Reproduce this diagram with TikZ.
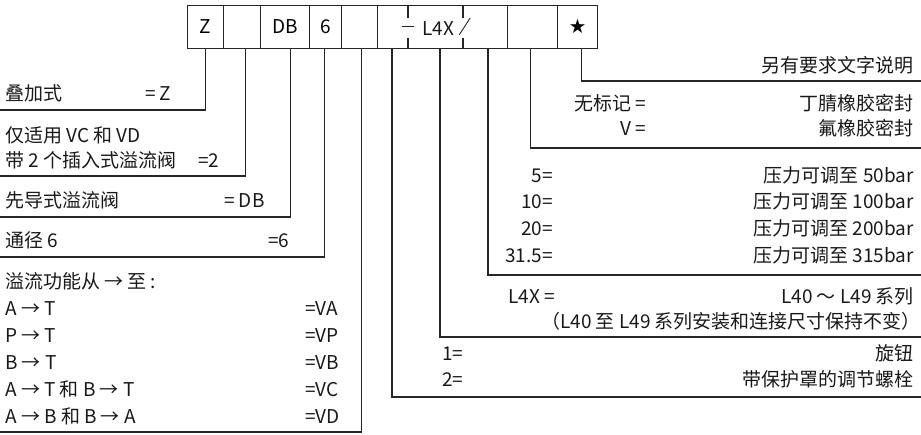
\documentclass[tikz,border=0pt]{standalone}
\usepackage{fontspec}
\setmainfont{Noto Sans CJK SC}
\newcommand{\fs}{\fontsize{19pt}{22pt}\selectfont}
\begin{document}
\begin{tikzpicture}[x=1pt,y=-1pt,
  ln/.style={line width=1.1pt, draw=black!85},
  cell/.style={draw=black!85, line width=1.1pt, minimum height=43pt, inner sep=0pt,
    font=\fs, anchor=north west, text height=13.5pt, text depth=0pt},
  lt/.style={inner sep=0pt, font=\fs, anchor=base west, text=black!90},
  rt/.style={inner sep=0pt, font=\fs, anchor=base east, text=black!90}]
\useasboundingbox (0,0) rectangle (921,434);

% top row of cells
\node[cell, minimum width=36pt]   (c1) at (187,5) {Z};
\node[cell, minimum width=37pt]   (c2) at (223,5) {};
\node[cell, minimum width=48.5pt] (c3) at (260,5) {DB};
\node[cell, minimum width=32.5pt] (c4) at (308.5,5) {6};
\node[cell, minimum width=36pt]   (c5) at (341,5) {};
\node[cell, minimum width=130pt]  (c6) at (377,5) {};
\node[cell, minimum width=50pt]   (c7) at (507,5) {};
\node[cell, minimum width=40pt, font=\fontsize{16pt}{18pt}\selectfont, text height=11pt] (c8) at (557,5) {★};

% L4X cell detail
\node[lt] (l4x) at (422,35) {L4X};
\draw[ln] ([xshift=31pt]c6.north west) -- ++(0,13);
\draw[ln] ([xshift=31pt]c6.south west) -- ++(0,-11);
\draw[ln] ([xshift=86pt]c6.north west) -- ++(0,13);
\draw[ln] ([xshift=86pt]c6.south west) -- ++(0,-11);
\draw[line width=0.9pt, draw=black!85] ([xshift=-20pt,yshift=1.5pt]l4x.west) -- ++(12.3,0);
\draw[line width=0.9pt, draw=black!85] ([xshift=5pt]l4x.base east) -- ++(11,-17);

% end points of connectors
\coordinate (e1) at (0,110);
\coordinate (e2) at (0,176);
\coordinate (e3) at (0,217);
\coordinate (e4) at (0,257);
\coordinate (e5) at (0,432);
\coordinate (f1) at (921,397);
\coordinate (f2) at (921,337);
\coordinate (f3) at (921,275);
\coordinate (f4) at (921,148);
\coordinate (f5) at (921,81);

% connectors
\draw[ln] (c1.south) |- (e1);
\draw[ln] ([xshift=3.5pt]c2.south) |- (e2);
\draw[ln] ([xshift=5.75pt]c3.south) |- (e3);
\draw[ln] ([xshift=-0.75pt]c4.south) |- (e4);
\draw[ln] ([xshift=2pt]c5.south) |- (e5);
\draw[ln] ([xshift=15pt]c6.south west) |- (f1);
\draw[ln] ([xshift=63pt]c6.south west) |- (f2);
\draw[ln] ([xshift=111pt]c6.south west) |- (f3);
\draw[ln] ([xshift=-2pt]c7.south) |- (f4);
\draw[ln] ([xshift=4pt]c8.south) |- (f5);

% left texts
\node[lt] (a1) at (5,100) {叠加式};
\node[lt] (a1v) at (145,100) {= Z};
\node[lt] (a2) at (5,142) {仅适用 VC 和 VD};
\node[lt] (a3) at (5,167) {带 2 个插入式溢流阀};
\node[lt] (a3v) at (198,167) {=2};
\node[lt] (a4) at (5,207) {先导式溢流阀};
\node[lt] (a4v) at (224,207) {= DB};
\node[lt] (a5) at (5,247) {通径 6};
\node[lt] (a5v) at (268,247) {=6};
\node[lt] (b0) at (5,288.5) {溢流功能从 → 至 :};
\node[lt] (b1) at (5,315) {A → T};
\node[lt] (b1v) at (305,315) {=VA};
\node[lt] (b2) at (5,342) {P → T};
\node[lt] (b2v) at (305,342) {=VP};
\node[lt] (b3) at (5,369) {B → T};
\node[lt] (b3v) at (305,369) {=VB};
\node[lt] (b4) at (5,396) {A → T 和 B → T};
\node[lt] (b4v) at (305,396) {=VC};
\node[lt] (b5) at (5,423) {A → B 和 B → A};
\node[lt] (b5v) at (305,423) {=VD};

% right texts
\node[rt] (r1) at (914,72) {另有要求文字说明};
\node[rt] (r2k) at (646,110) {无标记 =};
\node[rt] (r2) at (914,110) {丁腈橡胶密封};
\node[rt] (r3k) at (646,135) {V =};
\node[rt] (r3) at (914,135) {氟橡胶密封};
\node[rt] (p1k) at (553,182) {5=};
\node[rt] (p1) at (914,182) {压力可调至 50bar};
\node[rt] (p2k) at (553,208.5) {10=};
\node[rt] (p2) at (914,208.5) {压力可调至 100bar};
\node[rt] (p3k) at (553,235) {20=};
\node[rt] (p3) at (914,235) {压力可调至 200bar};
\node[rt] (p4k) at (553,262) {31.5=};
\node[rt] (p4) at (914,262) {压力可调至 315bar};
\node[lt] (s1k) at (508,303) {L4X =};
\node[rt] (s1) at (914,303) {L40 ～ L49 系列};
\node[rt] (s2) at (921,328) {（L40 至 L49 系列安装和连接尺寸保持不变）};
\node[lt] (k1k) at (442,360) {1=};
\node[rt] (k1) at (914,360) {旋钮};
\node[lt] (k2k) at (442,386) {2=};
\node[rt] (k2) at (914,386) {带保护罩的调节螺栓};
\end{tikzpicture}
\end{document}
